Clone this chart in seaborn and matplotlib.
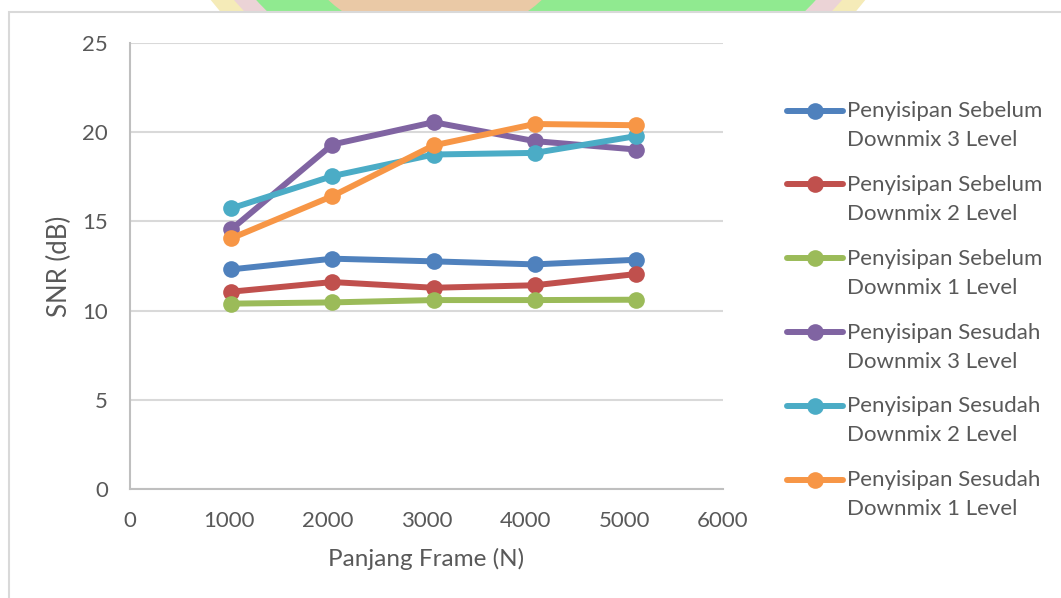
import numpy as np
import pandas as pd
import matplotlib
matplotlib.use("Agg")
import matplotlib.pyplot as plt
import matplotlib.patches as mpatches
from matplotlib.legend_handler import HandlerLine2D
import seaborn as sns

# Data
panjang_frame = [1024, 2048, 3072, 4096, 5120]
sebelum_3 = [12.31, 12.91, 12.76, 12.59, 12.85]
sebelum_2 = [11.06, 11.60, 11.28, 11.42, 12.05]
sebelum_1 = [10.39, 10.46, 10.59, 10.59, 10.61]
sesudah_3 = [14.55, 19.31, 20.56, 19.50, 19.03]
sesudah_2 = [15.73, 17.54, 18.75, 18.84, 19.78]
sesudah_1 = [14.05, 16.42, 19.26, 20.46, 20.39]

nama_seri = [
    "Penyisipan Sebelum\nDownmix 3 Level",
    "Penyisipan Sebelum\nDownmix 2 Level",
    "Penyisipan Sebelum\nDownmix 1 Level",
    "Penyisipan Sesudah\nDownmix 3 Level",
    "Penyisipan Sesudah\nDownmix 2 Level",
    "Penyisipan Sesudah\nDownmix 1 Level",
]
nilai_seri = [sebelum_3, sebelum_2, sebelum_1, sesudah_3, sesudah_2, sesudah_1]
warna = ["#4F81BD", "#C0504D", "#9BBB59", "#8064A2", "#4BACC6", "#F79646"]


# legend handle sits on the first line of the label, like Excel
class HandlerAtas(HandlerLine2D):
    def create_artists(self, legend, orig_handle, xdescent, ydescent,
                       width, height, fontsize, trans):
        artists = super().create_artists(legend, orig_handle, xdescent, ydescent,
                                         width, height, fontsize, trans)
        for a in artists:
            a.set_ydata(np.asarray(a.get_ydata()) + 0.68 * fontsize)
        return artists


sns.set_style("white")
plt.rcParams["font.family"] = ["Lato", "DejaVu Sans"]

fig = plt.figure(figsize=(10.61, 5.98), dpi=100)
W, H = 1061, 598


def lingkaran(cx, cy, r_x, r_y, warna_isi):
    # cx, cy, radii in pixels (cy measured from the top edge)
    fig.patches.append(mpatches.Ellipse((cx / W, 1 - cy / H), 2 * r_x / W, 2 * r_y / H,
                                        transform=fig.transFigure, facecolor=warna_isi,
                                        edgecolor="none", zorder=-3))


# watermark of the page showing above the chart area
lingkaran(538, -260, 418, 418, "#F5EBB8")
lingkaran(538, -260, 400, 400, "#EBD3D6")
lingkaran(536, -260, 382, 382, "#90EA90")
lingkaran(435, -60, 135, 98, "#EAC9A6")

# chart area
fig.patches.append(mpatches.Rectangle((9 / W, -0.1), 1.2, 1 - 12 / H + 0.1,
                                      transform=fig.transFigure, facecolor="white",
                                      edgecolor="#D9D9D9", linewidth=1.5, zorder=-1))

ax = fig.add_axes([130 / W, 109 / H, 593 / W, 446 / H])
ax.patch.set_alpha(0)

for nama, nilai, c in zip(nama_seri, nilai_seri, warna):
    sns.lineplot(x=panjang_frame, y=nilai, color=c, marker="o", markersize=12,
                 markeredgewidth=0, linewidth=4.3, label=nama, ax=ax)

ax.set_xlim(0, 6000)
ax.set_ylim(0, 25)
ax.set_xticks(range(0, 6001, 1000))
ax.set_yticks(range(0, 26, 5))
ax.yaxis.grid(True, color="#D9D9D9", linewidth=1.5)
ax.set_axisbelow(True)
for s in ["top", "right"]:
    ax.spines[s].set_visible(False)
for s in ["left", "bottom"]:
    ax.spines[s].set_color("#BFBFBF")
    ax.spines[s].set_linewidth(1.5)
ax.tick_params(length=0, labelsize=16, labelcolor="#595959", pad=16)
ax.set_xlabel("Panjang Frame (N)", fontsize=17.5, color="#595959", labelpad=12)
ax.set_ylabel("SNR (dB)", fontsize=18.5, color="#595959", labelpad=7)

handles, labels = ax.get_legend_handles_labels()
leg = ax.legend(handles, labels, loc="upper left", bbox_to_anchor=(787 / W, 1 - 101 / H),
                bbox_transform=fig.transFigure, frameon=False, fontsize=16,
                handlelength=2.5, handletextpad=0.2, labelspacing=1.12, borderpad=0,
                borderaxespad=0, labelcolor="#595959",
                handler_map={h: HandlerAtas() for h in handles})
for t in leg.get_texts():
    t.set_linespacing(1.56)

fig.savefig("out.png", dpi=100)
